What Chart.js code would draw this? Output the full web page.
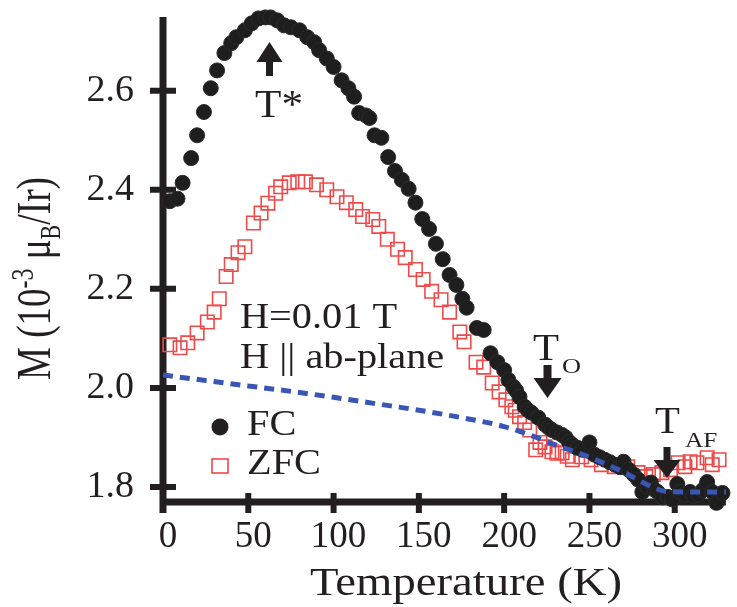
<!DOCTYPE html>
<html>
<head>
<meta charset="utf-8">
<script src="https://cdn.jsdelivr.net/npm/chart.js@4"></script>
<style>
  html, body { margin: 0; padding: 0; background: #fff; }
  #wrap { width: 737px; height: 607px; }
</style>
</head>
<body>
<div id="wrap"><canvas id="magChart" width="737" height="607"></canvas></div>
<script>
// field-cooled magnetisation (10^-3 muB/Ir) vs temperature (K)
const FC_T = [4, 8.5, 11.5, 16.5, 20, 24, 28, 31.7, 36, 40, 43, 48, 52, 56, 60, 63, 67, 71, 75, 80,
  84.6, 88.6, 91.5, 96, 100, 104.7, 108.7, 112, 115, 119, 121, 124, 128, 132, 136, 140, 144, 148, 152, 156,
  160, 164, 168, 172, 175.5, 178, 184, 188, 192, 196, 200, 202.5, 205.5, 207, 209, 212, 214, 216, 220, 224,
  226, 228, 231, 234, 236, 238, 240, 243, 246, 250, 253, 256, 259, 262, 265, 268, 270, 273, 276, 278.5,
  281, 284, 286, 288, 290, 293, 296, 298.5, 301.5, 303, 306, 309, 311, 314, 316.5, 319, 322, 324.5, 328];
const FC_M = [2.377, 2.382, 2.414, 2.464, 2.51, 2.557, 2.605, 2.641, 2.676, 2.696, 2.708, 2.722, 2.736, 2.746, 2.748, 2.748, 2.742, 2.732, 2.728, 2.722,
  2.708, 2.698, 2.682, 2.665, 2.648, 2.621, 2.605, 2.588, 2.555, 2.55, 2.545, 2.51, 2.505, 2.466, 2.438, 2.42, 2.402, 2.374, 2.341, 2.321,
  2.291, 2.26, 2.228, 2.208, 2.18, 2.162, 2.121, 2.117, 2.07, 2.052, 2.036, 2.016, 2.002, 1.995, 1.982, 1.962, 1.955, 1.95, 1.94, 1.926,
  1.92, 1.915, 1.91, 1.905, 1.9, 1.891, 1.885, 1.879, 1.875, 1.89, 1.865, 1.86, 1.855, 1.85, 1.845, 1.84, 1.851, 1.835, 1.825, 1.815,
  1.79, 1.8, 1.809, 1.795, 1.79, 1.779, 1.78, 1.775, 1.806, 1.79, 1.785, 1.79, 1.782, 1.785, 1.794, 1.81, 1.79, 1.768, 1.788];

// zero-field-cooled
const ZFC_T = [4, 10, 14.5, 20, 26, 30, 33, 37, 40, 44, 48, 53, 57.5, 61.5, 66, 69, 74, 79, 83.5, 90,
  96, 102, 107.5, 113, 117, 123, 126.5, 131.5, 137.5, 142, 148, 152.5, 157.5, 163, 168, 174, 176.5, 183.5, 188, 193,
  197, 201, 204.5, 206.5, 209, 212, 215, 218.5, 221, 224, 228, 231, 234, 237, 240, 245.5, 251, 257, 264.5, 272.5,
  278.5, 283, 287.5, 292.5, 297.5, 302, 306, 309, 313, 319, 322, 326];
const ZFC_M = [2.087, 2.081, 2.091, 2.111, 2.133, 2.153, 2.18, 2.225, 2.249, 2.273, 2.285, 2.333, 2.353, 2.373, 2.393, 2.406, 2.414, 2.416, 2.416, 2.41,
  2.4, 2.386, 2.374, 2.36, 2.346, 2.34, 2.326, 2.3, 2.28, 2.263, 2.239, 2.219, 2.195, 2.178, 2.153, 2.113, 2.093, 2.052, 2.042, 2.01,
  1.992, 1.976, 1.962, 1.955, 1.942, 1.93, 1.915, 1.875, 1.89, 1.881, 1.871, 1.868, 1.869, 1.862, 1.855, 1.861, 1.855, 1.845, 1.841, 1.841,
  1.829, 1.821, 1.825, 1.829, 1.835, 1.849, 1.841, 1.851, 1.849, 1.859, 1.845, 1.855];

// background fit (dotted blue)
const FIT_T = [0, 25, 50, 75, 100, 125, 150, 175, 200, 215, 230, 250, 270, 285, 295, 310, 330];
const FIT_M = [2.026, 2.015, 2.004, 1.993, 1.981, 1.968, 1.955, 1.940, 1.922, 1.905, 1.885, 1.860, 1.830, 1.803, 1.791, 1.790, 1.790];

const X_TICKS = [0, 50, 100, 150, 200, 250, 300];
const Y_TICKS = [1.8, 2.0, 2.2, 2.4, 2.6];

const INK = '#231f20';
const SERIF = '"Liberation Serif", "Times New Roman", Times, serif';

const pts = (xs, ys) => xs.map((t, i) => ({ x: t, y: ys[i] }));

// text with a little horizontal stretch, returns advance width
function put(ctx, str, x, y, size, sx = 1) {
  ctx.save();
  ctx.font = size + 'px ' + SERIF;
  ctx.translate(x, y);
  ctx.scale(sx, 1);
  ctx.fillText(str, 0, 0);
  const w = ctx.measureText(str).width * sx;
  ctx.restore();
  return w;
}

function arrow(ctx, x, tip, base, end, half, shaft) {
  ctx.beginPath();
  ctx.moveTo(x, tip);
  ctx.lineTo(x - half, base);
  ctx.lineTo(x - shaft, base);
  ctx.lineTo(x - shaft, end);
  ctx.lineTo(x + shaft, end);
  ctx.lineTo(x + shaft, base);
  ctx.lineTo(x + half, base);
  ctx.closePath();
  ctx.fill();
}

const frame = {
  id: 'frame',
  beforeDatasetsDraw(chart) {
    const { ctx, chartArea: a, scales: { x, y } } = chart;
    ctx.save();
    ctx.strokeStyle = INK;
    ctx.lineWidth = 7;
    ctx.beginPath();
    ctx.moveTo(a.left, a.top);
    ctx.lineTo(a.left, a.bottom + 11);
    ctx.moveTo(a.left - 3, a.bottom);
    ctx.lineTo(a.right, a.bottom);
    ctx.stroke();
    ctx.lineWidth = 6;
    ctx.beginPath();
    Y_TICKS.forEach(v => {
      const p = y.getPixelForValue(v);
      ctx.moveTo(a.left - 13, p);
      ctx.lineTo(a.left + 13, p);
    });
    X_TICKS.forEach(v => {
      const p = x.getPixelForValue(v);
      ctx.moveTo(p, a.bottom - 9);
      ctx.lineTo(p, a.bottom + 11);
    });
    ctx.stroke();
    ctx.restore();
  },
  afterDraw(chart) {
    const { ctx } = chart;
    ctx.save();
    ctx.fillStyle = INK;
    ctx.textBaseline = 'alphabetic';

    // axis titles
    put(ctx, 'Temperature (K)', 310, 595, 41, 1.14);

    ctx.save();
    ctx.translate(50, 380);
    ctx.rotate(-Math.PI / 2);
    ctx.scale(1, 1.3);
    let cx = 0;
    cx += put(ctx, 'M (10', cx, 0, 37);
    cx += put(ctx, '-3', cx, -13, 24);
    cx += put(ctx, ' \u03bc', cx, 0, 37);
    cx += put(ctx, 'B', cx, 8, 22);
    put(ctx, '/Ir)', cx, 0, 37.5);
    ctx.restore();

    // T* marker
    arrow(ctx, 269.5, 42, 62, 76, 13, 3.5);
    put(ctx, 'T*', 255, 117, 40, 1.08);

    // field conditions
    put(ctx, 'H=0.01 T', 240, 328, 36, 1.12);
    put(ctx, 'H || ab-plane', 240, 368, 36, 1.12);

    // T_O
    arrow(ctx, 547.5, 398, 378, 365, 14, 4);
    put(ctx, 'T', 533, 360, 38, 1.12);
    put(ctx, 'O', 562, 373, 22, 1.2);

    // T_AF
    arrow(ctx, 667, 478, 460, 447, 13.5, 3.5);
    put(ctx, 'T', 655, 433, 37, 1.1);
    put(ctx, 'AF', 685, 447, 22, 1.15);

    // legend
    ctx.beginPath();
    ctx.arc(220, 427, 8.5, 0, Math.PI * 2);
    ctx.fill();
    put(ctx, 'FC', 247, 435, 36, 1.12);
    ctx.strokeStyle = '#ef4a4a';
    ctx.lineWidth = 1.6;
    ctx.strokeRect(212, 459, 16, 14);
    put(ctx, 'ZFC', 247, 474, 36, 1.12);
    ctx.restore();
  }
};

function build() {
  new Chart(document.getElementById('magChart'), {
    type: 'scatter',
    data: {
      datasets: [
        {
          label: 'fit',
          data: pts(FIT_T, FIT_M),
          showLine: true,
          borderColor: '#3a56b4',
          borderWidth: 5,
          borderDash: [10, 7],
          pointRadius: 0,
          tension: 0.4,
          cubicInterpolationMode: 'monotone',
          fill: false,
          order: 0
        },
        {
          label: 'FC',
          data: pts(FC_T, FC_M),
          pointRadius: 7.5,
          backgroundColor: '#1e1e1e',
          borderColor: '#2a2a2a',
          borderWidth: 1,
          clip: 12,
          order: 1
        },
        {
          label: 'ZFC',
          data: pts(ZFC_T, ZFC_M),
          pointStyle: 'rect',
          pointRadius: 9.5,
          backgroundColor: 'transparent',
          borderColor: '#ef4a4a',
          borderWidth: 1.6,
          clip: 12,
          order: 2
        }
      ]
    },
    options: {
      responsive: false,
      animation: false,
      layout: { padding: { top: 17, right: 0, bottom: 0, left: 0 } },
      plugins: { legend: { display: false }, tooltip: { enabled: false } },
      scales: {
        x: {
          type: 'linear',
          min: 0,
          max: 330,
          afterBuildTicks(s) { s.ticks = X_TICKS.map(v => ({ value: v })); },
          afterFit(s) { s.height = 105; s.paddingLeft = 0; s.paddingRight = 0; },
          grid: { display: false, drawTicks: false },
          border: { display: false },
          ticks: { color: INK, padding: 13, labelOffset: 5, font: { family: SERIF, size: 37 } }
        },
        y: {
          type: 'linear',
          min: 1.7697,
          max: 2.7488,
          afterBuildTicks(s) { s.ticks = Y_TICKS.map(v => ({ value: v })); },
          afterFit(s) { s.width = 163; s.paddingTop = 0; s.paddingBottom = 0; },
          grid: { display: false, drawTicks: false },
          border: { display: false },
          ticks: {
            color: INK,
            padding: 29,
            font: { family: SERIF, size: 38 },
            callback: v => v.toFixed(1)
          }
        }
      }
    },
    plugins: [frame]
  });
}

document.fonts.load('38px "Liberation Serif"').then(build, build);
</script>
</body>
</html>
